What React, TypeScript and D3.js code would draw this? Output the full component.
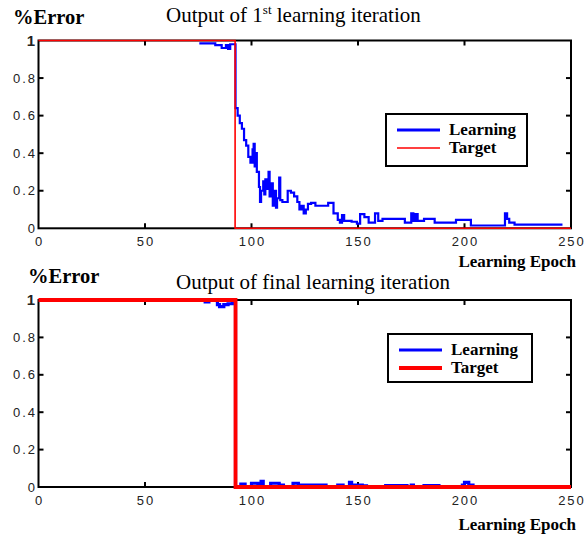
import * as d3 from "d3";

// x ticks / y ticks shared by both panels
const xTicks = [0, 50, 100, 150, 200, 250];
const xTickLabels = ["0", "50", "100", "150", "200", "250"];
const yTicks = [0, 0.2, 0.4, 0.6, 0.8, 1];
const yTickLabels = ["0", "0.2", "0.4", "0.6", "0.8", "1"];

// panel 1: output of 1st learning iteration
const firstEpochs = [
  75.5, 83, 86, 88, 89, 90, 92.5, 93.5, 94.5, 95.5, 96.5, 97.5, 98.5, 99.5, 100.5, 101,
  101.5, 102, 102.5, 103.5, 104, 104.5, 105.5, 106, 106.5, 107.5, 108, 108.5, 109.5, 110,
  110.5, 111.5, 112, 113, 113.5, 114.5, 117, 118.5, 120, 121.5, 122.5, 123.5, 124.5, 125.5,
  126.5, 128, 130, 136, 138.5, 140.5, 141.5, 142.5, 143.5, 147, 149.5, 151, 153, 155, 158,
  159.5, 161.5, 172, 175, 176, 177, 178, 181, 186, 196, 203, 219, 220, 221, 223.5, 246,
];
const firstError = [
  0.985, 0.975, 0.96, 0.975, 0.955, 0.98, 0.64, 0.6, 0.56, 0.53, 0.47, 0.44, 0.38, 0.35, 0.42, 0.45,
  0.33, 0.4, 0.3, 0.22, 0.14, 0.2, 0.25, 0.18, 0.26, 0.21, 0.3, 0.17, 0.24, 0.12,
  0.2, 0.11, 0.16, 0.27, 0.15, 0.14, 0.2, 0.19, 0.17, 0.14, 0.1, 0.12, 0.08, 0.1,
  0.13, 0.135, 0.12, 0.135, 0.08, 0.045, 0.03, 0.07, 0.04, 0.035, 0.025, 0.075, 0.06, 0.03, 0.08,
  0.04, 0.05, 0.03, 0.08, 0.04, 0.075, 0.04, 0.05, 0.03, 0.045, 0.015, 0.08, 0.05, 0.03, 0.02, 0.02,
];
const firstTargetEpochs = [0, 92.3, 92.3, 250];
const firstTarget = [1, 1, 0, 0];

// panel 2: output of final learning iteration
const finalEpochs = [
  77.5, 80, 84, 85, 87, 89, 91, 92.5, 95, 97, 100, 103, 104.5, 105.5, 109, 113, 115, 119.5,
  122, 135, 140.5, 143, 146, 147, 152, 154, 163, 173, 175, 176, 181, 188, 199, 200, 202, 204, 250,
];
const finalError = [
  0.99, 1, 0.975, 0.965, 0.975, 0.98, 0.99, 0, 0.015, 0, 0.02, 0.01, 0.03, 0, 0.02, 0.01, 0, 0.02,
  0.01, 0, 0.01, 0, 0.025, 0.01, 0.006, 0, 0.007, 0, 0.01, 0, 0.007, 0, 0.01, 0.025, 0.01, 0, 0,
];
const finalTargetEpochs = [0, 92.5, 92.5, 250];
const finalTarget = [1, 1, 0, 0];

const legendLabels = ["Learning", "Target"];
const serif = "'Liberation Serif', 'Times New Roman', serif";
const tickFont = "'Liberation Sans', Arial, sans-serif";

type PanelProps = {
  top: number;
  bottom: number;
  epochs: number[];
  errors: number[];
  targetEpochs: number[];
  target: number[];
  learnWidth: number;
  targetWidth: number;
  legend: { x: number; y: number; w: number; h: number };
  errorX: number;
  errorY: number;
  title: React.ReactNode;
  titleX: number;
  titleY: number;
  epochY: number;
};

function Panel(p: PanelProps) {
  const left = 38.5;
  const right = 571;
  const x = d3.scaleLinear().domain([0, 250]).range([left, right]);
  const y = d3.scaleLinear().domain([0, 1]).range([p.bottom, p.top]);

  const learnLine = d3
    .line<number>()
    .x((_, i) => x(p.epochs[i]))
    .y((d) => y(d))
    .curve(d3.curveStepAfter);
  const targetLine = d3
    .line<number>()
    .x((_, i) => x(p.targetEpochs[i]))
    .y((d) => y(d));

  const tl = 5;
  const lg = p.legend;

  return (
    <g>
      {/* axes box */}
      <rect x={left} y={p.top} width={right - left} height={p.bottom - p.top}
        fill="none" stroke="#000" strokeWidth={2} />
      {xTicks.slice(1, -1).map((t) => (
        <g key={"xt" + t}>
          <line x1={x(t)} x2={x(t)} y1={p.bottom} y2={p.bottom - tl} stroke="#000" strokeWidth={2} />
          <line x1={x(t)} x2={x(t)} y1={p.top} y2={p.top + tl} stroke="#000" strokeWidth={2} />
        </g>
      ))}
      {yTicks.slice(1, -1).map((t) => (
        <g key={"yt" + t}>
          <line x1={left} x2={left + tl} y1={y(t)} y2={y(t)} stroke="#000" strokeWidth={2} />
          <line x1={right} x2={right - tl} y1={y(t)} y2={y(t)} stroke="#000" strokeWidth={2} />
        </g>
      ))}
      {xTicks.map((t, i) => (
        <text key={"xl" + t} x={x(t) + 1} y={p.bottom + 18} textAnchor="middle"
          fontFamily={tickFont} fontSize={13} letterSpacing={2} fill="#222">
          {xTickLabels[i]}
        </text>
      ))}
      {yTicks.map((t, i) => (
        <text key={"yl" + t} x={t === 1 ? 35 : 37} y={y(t)} dy="0.35em" textAnchor="end"
          fontFamily={tickFont} fontSize={t === 1 ? 15 : 13} letterSpacing={t === 1 ? 0 : 2}
          fontWeight={t === 1 ? "bold" : "normal"} fill="#222">
          {yTickLabels[i]}
        </text>
      ))}

      <path d={learnLine(p.errors) ?? ""} fill="none" stroke="#0000ff" strokeWidth={p.learnWidth} />
      <path d={targetLine(p.target) ?? ""} fill="none" stroke="#ff0000" strokeWidth={p.targetWidth} />

      {/* legend */}
      <rect x={lg.x} y={lg.y} width={lg.w} height={lg.h} fill="#fff" stroke="#000" strokeWidth={2} />
      {legendLabels.map((name, i) => {
        const ly = lg.y + 16 + i * 18;
        return (
          <g key={name}>
            <line x1={lg.x + 11} x2={lg.x + 54} y1={ly} y2={ly}
              stroke={i === 0 ? "#0000ff" : "#ff0000"} strokeWidth={i === 0 ? 3 : p.targetWidth} />
            <text x={lg.x + 63} y={ly + 5} fontFamily={serif} fontWeight="bold" fontSize={17}>
              {name}
            </text>
          </g>
        );
      })}

      <text x={p.errorX} y={p.errorY} fontFamily={serif} fontWeight="bold" fontSize={20.5}>
        %Error
      </text>
      <text x={p.titleX} y={p.titleY} fontFamily={serif} fontSize={21}>
        {p.title}
      </text>
      <text x={576} y={p.epochY} textAnchor="end" fontFamily={serif} fontWeight="bold" fontSize={17}>
        Learning Epoch
      </text>
    </g>
  );
}

export default function App() {
  return (
    <svg width={586} height={535} style={{ position: "absolute", left: 0, top: 0, background: "#fff" }}>
      <Panel
        top={40.5}
        bottom={228.3}
        epochs={firstEpochs}
        errors={firstError}
        targetEpochs={firstTargetEpochs}
        target={firstTarget}
        learnWidth={2.2}
        targetWidth={1.6}
        legend={{ x: 386, y: 114, w: 141, h: 52 }}
        errorX={13}
        errorY={24}
        titleX={166}
        titleY={22}
        epochY={267}
        title={
          <>
            Output of 1<tspan fontSize={13} dy={-8}>st</tspan>
            <tspan dy={8}> learning iteration</tspan>
          </>
        }
      />
      <Panel
        top={300}
        bottom={487}
        epochs={finalEpochs}
        errors={finalError}
        targetEpochs={finalTargetEpochs}
        target={finalTarget}
        learnWidth={3.2}
        targetWidth={3.8}
        legend={{ x: 388, y: 334, w: 144, h: 48 }}
        errorX={28}
        errorY={283}
        titleX={176}
        titleY={289}
        epochY={530}
        title="Output of final learning iteration"
      />
    </svg>
  );
}
